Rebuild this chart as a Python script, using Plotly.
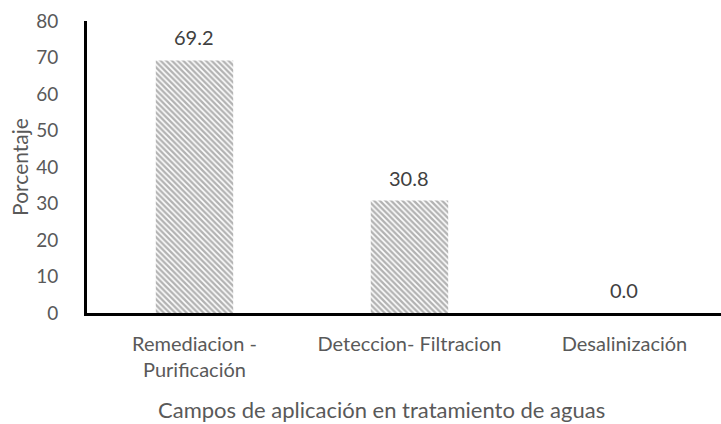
import plotly.graph_objects as go

categories = ["Remediacion -<br>Purificación", "Deteccion- Filtracion", "Desalinización"]
values = [69.2, 30.8, 0.0]
y_ticks = [0, 10, 20, 30, 40, 50, 60, 70, 80]
x_title = "Campos de aplicación en tratamiento de aguas"

FONT = "Lato, 'Open Sans', sans-serif"

fig = go.Figure()
fig.add_trace(go.Bar(
    x=list(range(len(categories))),
    y=values,
    width=0.36,
    marker=dict(
        color="white",
        line=dict(width=0),
        pattern=dict(shape="\\", size=4, solidity=0.6, fgcolor="#666666", bgcolor="#ffffff"),
    ),
    hoverinfo="skip",
))

for i, v in enumerate(values):
    fig.add_annotation(x=i, y=v, text=f"{v:.1f}", showarrow=False, yanchor="bottom",
                       yshift=9, font=dict(family=FONT, size=20, color="#404040"))

fig.add_annotation(xref="paper", yref="paper", x=0.464, y=-0.332, xanchor="center",
                   yanchor="middle", text=x_title, showarrow=False,
                   font=dict(family=FONT, size=22, color="#595959"))

fig.add_shape(type="line", xref="paper", x0=0, x1=1, yref="y", ysizemode="pixel",
              yanchor=0, y0=-2, y1=-2, line=dict(color="#4472c4", width=1), layer="below")

fig.update_layout(
    width=721, height=424,
    margin=dict(l=87, r=0, t=21, b=111),
    paper_bgcolor="white", plot_bgcolor="white",
    showlegend=False,
    font=dict(family=FONT, color="#595959"),
    xaxis=dict(
        range=[-0.5, 2.449],
        tickmode="array",
        tickvals=list(range(len(categories))),
        ticktext=categories,
        tickfont=dict(size=20, color="#595959"),
        showline=True, linecolor="black", linewidth=3,
        showgrid=False, zeroline=False, ticks="",
        ticklabelstandoff=11,
        automargin=False,
    ),
    yaxis=dict(
        range=[0, 80],
        tickvals=y_ticks,
        tickfont=dict(size=19, color="#595959"),
        showline=True, linecolor="black", linewidth=3,
        showgrid=False, zeroline=False, ticks="",
        ticklabelstandoff=22,
        automargin=False,
        title=dict(text="Porcentaje", font=dict(size=21, color="#595959"), standoff=2),
    ),
)

fig.write_html("out.html", config={"displayModeBar": False},
               post_script="document.body.style.margin='0';")
